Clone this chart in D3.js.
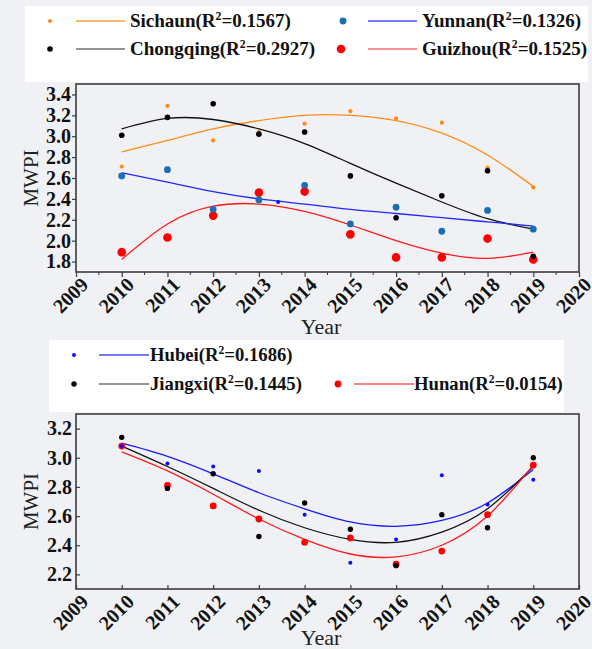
<!DOCTYPE html>
<html>
<head>
<meta charset="utf-8">
<script src="https://cdn.jsdelivr.net/npm/d3@7"></script>
<style>
  html, body { margin: 0; padding: 0; background: #f0f1f5; }
  svg { display: block; }
</style>
</head>
<body>
<svg id="chart" width="592" height="649"></svg>
<script>
// ---------- data ----------
const years = [2010, 2011, 2012, 2013, 2014, 2015, 2016, 2017, 2018, 2019];
const xTickYears = [2009, 2010, 2011, 2012, 2013, 2014, 2015, 2016, 2017, 2018, 2019, 2020];

// upper panel: observed MWPI
const sichuanVals   = [2.71, 3.29, 2.96, 3.04, 3.12, 3.24, 3.17, 3.13, 2.70, 2.51];
const chongqingVals = [3.01, 3.18, 3.31, 3.02, 3.04, 2.62, 2.22, 2.43, 2.67, 1.85];
const yunnanVals    = [2.62, 2.68, 2.30, 2.39, 2.53, 2.16, 2.32, 2.09, 2.29, 2.11];
const guizhouVals   = [1.89, 2.03, 2.24, 2.46, 2.47, 2.06, 1.84, 1.84, 2.02, 1.82];
const yunnanExtraYear = [2013.42];
const yunnanExtraVal  = [2.37];

// upper panel: fitted trend values per year
const sichuanFit   = [2.85, 2.96, 3.07, 3.15, 3.20, 3.20, 3.15, 3.03, 2.82, 2.52];
const chongqingFit = [3.07, 3.17, 3.16, 3.07, 2.93, 2.74, 2.55, 2.37, 2.21, 2.11];
const yunnanFit    = [2.65, 2.56, 2.47, 2.40, 2.35, 2.30, 2.26, 2.22, 2.18, 2.14];
const guizhouFit   = [1.82, 2.16, 2.33, 2.35, 2.28, 2.15, 2.00, 1.88, 1.83, 1.89];

// lower panel: observed MWPI
const hubeiVals   = [3.08, 2.96, 2.94, 2.91, 2.61, 2.28, 2.44, 2.88, 2.68, 2.85];
const jiangxiVals = [3.14, 2.79, 2.89, 2.46, 2.69, 2.51, 2.26, 2.61, 2.52, 3.00];
const hunanVals   = [3.08, 2.81, 2.67, 2.58, 2.42, 2.45, 2.27, 2.36, 2.61, 2.95];

// lower panel: fitted trend values per year
const hubeiFit   = [3.10, 3.01, 2.89, 2.76, 2.65, 2.56, 2.53, 2.57, 2.69, 2.92];
const jiangxiFit = [3.08, 2.94, 2.79, 2.64, 2.52, 2.44, 2.42, 2.49, 2.65, 2.94];
const hunanFit   = [3.04, 2.91, 2.75, 2.58, 2.44, 2.34, 2.32, 2.40, 2.60, 2.95];

const topYTicks = [1.8, 2.0, 2.2, 2.4, 2.6, 2.8, 3.0, 3.2, 3.4];
const botYTicks = [2.2, 2.4, 2.6, 2.8, 3.0, 3.2];

const topLegend = [
  { name: "Sichaun",   r2: "0.1567" },
  { name: "Yunnan",    r2: "0.1326" },
  { name: "Chongqing", r2: "0.2927" },
  { name: "Guizhou",   r2: "0.1525" }
];
const botLegend = [
  { name: "Hubei",   r2: "0.1686" },
  { name: "Jiangxi", r2: "0.1445" },
  { name: "Hunan",   r2: "0.0154" }
];

// ---------- drawing ----------
const svg = d3.select("#chart");
const SERIF = "'Liberation Serif', 'Times New Roman', serif";
const FRAME = "#3c3c3c";

function series(vals) { return years.map((y, i) => ({ x: y, v: vals[i] })); }

function panel(cfg) {
  const x = d3.scaleLinear().domain([2009, 2020]).range([cfg.left, cfg.right]);
  const y = d3.scaleLinear().domain(cfg.yDomain).range([cfg.bottom, cfg.top]);
  const g = svg.append("g");

  g.append("rect")
    .attr("x", cfg.left).attr("y", cfg.top)
    .attr("width", cfg.right - cfg.left).attr("height", cfg.bottom - cfg.top)
    .attr("fill", "#f0f1f5");

  // trend curves
  const line = d3.line().x(d => x(d.x)).y(d => y(d.v)).curve(d3.curveNatural);
  cfg.curves.forEach(c => {
    g.append("path").datum(series(c.vals))
      .attr("d", line).attr("fill", "none")
      .attr("stroke", c.color).attr("stroke-width", 1.3);
  });

  // markers
  cfg.points.forEach(p => {
    g.selectAll(null).data(p.data).enter().append("circle")
      .attr("cx", d => x(d.x)).attr("cy", d => y(d.v))
      .attr("r", p.r).attr("fill", p.color);
  });

  // x axis
  const xAxis = d3.axisBottom(x).tickValues(xTickYears).tickFormat(d3.format("d"))
    .tickSize(cfg.tickIn ? -4 : 5).tickSizeOuter(0);
  const gx = g.append("g").attr("transform", `translate(0,${cfg.bottom})`).call(xAxis);
  gx.select(".domain").remove();
  gx.selectAll(".tick line").attr("stroke", FRAME).attr("stroke-width", 1.2);
  gx.selectAll(".tick text")
    .attr("font-family", SERIF).attr("font-weight", "bold").attr("font-size", 20)
    .attr("fill", "#111")
    .attr("text-anchor", "end")
    .attr("dy", null).attr("y", 0)
    .attr("transform", "translate(13,14) rotate(-45)");
  if (cfg.minor) {
    const half = d3.range(2009.5, 2020, 1);
    g.selectAll(null).data(half).enter().append("line")
      .attr("x1", d => x(d)).attr("x2", d => x(d))
      .attr("y1", cfg.bottom).attr("y2", cfg.bottom + 3)
      .attr("stroke", FRAME).attr("stroke-width", 1);
  }

  // y axis
  const yAxis = d3.axisLeft(y).tickValues(cfg.yTicks).tickFormat(d3.format(".1f"))
    .tickSize(cfg.tickIn ? -4 : 4).tickSizeOuter(0).tickPadding(cfg.tickIn ? 4 : 1);
  const gy = g.append("g").attr("transform", `translate(${cfg.left},0)`).call(yAxis);
  gy.select(".domain").remove();
  gy.selectAll(".tick line").attr("stroke", FRAME).attr("stroke-width", 1.2);
  gy.selectAll(".tick text")
    .attr("font-family", SERIF).attr("font-weight", "bold").attr("font-size", 20)
    .attr("fill", "#111");

  // frame
  g.append("rect")
    .attr("x", cfg.left).attr("y", cfg.top)
    .attr("width", cfg.right - cfg.left).attr("height", cfg.bottom - cfg.top)
    .attr("fill", "none").attr("stroke", FRAME).attr("stroke-width", 1.6);

  // axis titles
  g.append("text")
    .attr("transform", `translate(38,${(cfg.top + cfg.bottom) / 2}) rotate(-90)`)
    .attr("text-anchor", "middle")
    .attr("font-family", SERIF).attr("font-size", 21).attr("fill", "#222")
    .text("MWPI");
  g.append("text")
    .attr("x", 321).attr("y", cfg.yearBaseline)
    .attr("text-anchor", "middle")
    .attr("font-family", SERIF).attr("font-size", 22).attr("fill", "#222")
    .text("Year");
}

function legend(box, items) {
  svg.append("rect")
    .attr("x", box.x).attr("y", box.y).attr("width", box.w).attr("height", box.h)
    .attr("fill", "#ffffff");
  items.forEach(it => {
    svg.append("circle").attr("cx", it.dotX).attr("cy", it.cy).attr("r", it.r).attr("fill", it.dot);
    svg.append("line")
      .attr("x1", it.lineX).attr("x2", it.lineX + it.lineW)
      .attr("y1", it.cy).attr("y2", it.cy)
      .attr("stroke", it.line).attr("stroke-width", 1.6);
    const t = svg.append("text")
      .attr("x", it.textX).attr("y", it.cy + 6)
      .attr("font-family", SERIF).attr("font-weight", "bold")
      .attr("font-size", it.size).attr("fill", "#111");
    t.append("tspan").text(`${it.name}(R`);
    t.append("tspan").attr("dy", -7).attr("font-size", it.size * 0.62).text("2");
    t.append("tspan").attr("dy", 7).text(`=${it.r2})`);
  });
}

// upper panel
panel({
  left: 76, right: 579, top: 84, bottom: 272,
  yDomain: [1.7, 3.5], yTicks: topYTicks, tickIn: false, minor: true,
  yearBaseline: 334,
  curves: [
    { vals: sichuanFit, color: "#ff8c1a" },
    { vals: chongqingFit, color: "#111111" },
    { vals: yunnanFit, color: "#2424ff" },
    { vals: guizhouFit, color: "#ff1a1a" }
  ],
  points: [
    { data: series(guizhouVals), color: "#ff0000", r: 4.3 },
    { data: series(yunnanVals), color: "#1a6fb2", r: 3.4 },
    { data: series(sichuanVals), color: "#ff8c1a", r: 2.1 },
    { data: series(chongqingVals), color: "#000000", r: 2.8 },
    { data: yunnanExtraYear.map((yr, i) => ({ x: yr, v: yunnanExtraVal[i] })), color: "#1010ff", r: 2 }
  ]
});

legend({ x: 25, y: 6, w: 563, h: 76 }, [
  { ...topLegend[0], dotX: 50, cy: 21, r: 2.1, dot: "#ff8c1a", lineX: 76, lineW: 49, line: "#ff9b3d", textX: 130, size: 19 },
  { ...topLegend[1], dotX: 343, cy: 21, r: 3.4, dot: "#1a6fb2", lineX: 368, lineW: 49, line: "#4a4aff", textX: 422, size: 19 },
  { ...topLegend[2], dotX: 50, cy: 49, r: 2.8, dot: "#000000", lineX: 76, lineW: 49, line: "#707070", textX: 130, size: 19 },
  { ...topLegend[3], dotX: 341, cy: 49, r: 4.3, dot: "#ff0000", lineX: 368, lineW: 49, line: "#ff6f6f", textX: 422, size: 19 }
]);

// lower panel
panel({
  left: 76, right: 579, top: 414, bottom: 589,
  yDomain: [2.1, 3.3], yTicks: botYTicks, tickIn: true, minor: false,
  yearBaseline: 645,
  curves: [
    { vals: hubeiFit, color: "#1a1aff" },
    { vals: jiangxiFit, color: "#111111" },
    { vals: hunanFit, color: "#ff1a1a" }
  ],
  points: [
    { data: series(hunanVals), color: "#ff0000", r: 3.4 },
    { data: series(jiangxiVals), color: "#000000", r: 2.7 },
    { data: series(hubeiVals), color: "#0a0aff", r: 2 }
  ]
});

legend({ x: 49, y: 340, w: 515, h: 72 }, [
  { ...botLegend[0], dotX: 74, cy: 355, r: 2, dot: "#0a0aff", lineX: 99, lineW: 50, line: "#4b4bff", textX: 150, size: 18.7 },
  { ...botLegend[1], dotX: 74, cy: 384, r: 2.7, dot: "#000000", lineX: 99, lineW: 50, line: "#707070", textX: 150, size: 18.7 },
  { ...botLegend[2], dotX: 338, cy: 384, r: 3.4, dot: "#ff0000", lineX: 354, lineW: 60, line: "#ff5a5a", textX: 414, size: 18.7 }
]);
</script>
</body>
</html>
